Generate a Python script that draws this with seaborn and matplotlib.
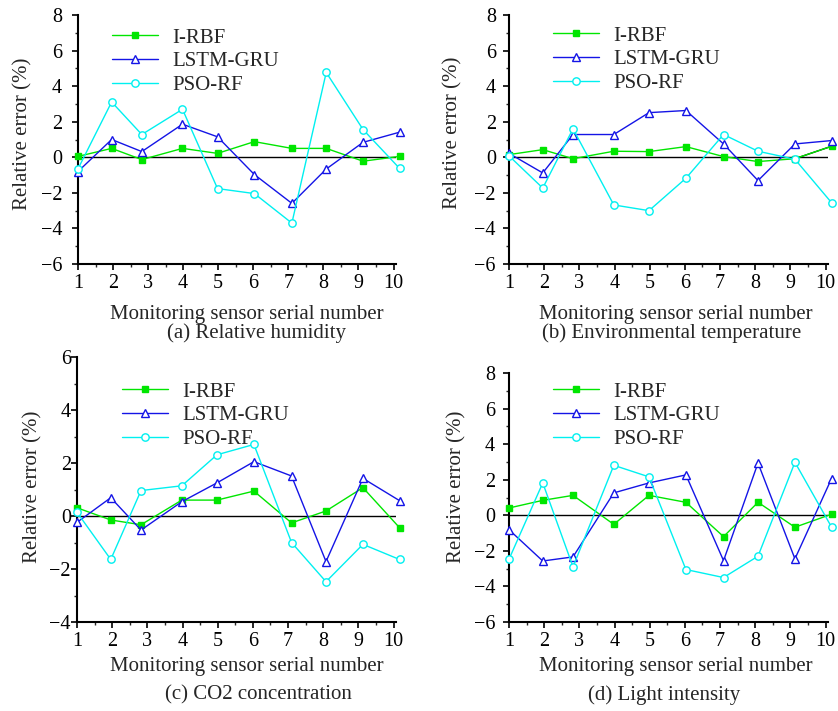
import numpy as np
import pandas as pd
import seaborn as sns
import matplotlib.pyplot as plt
from matplotlib.ticker import MultipleLocator

# sensor positions as drawn (points slightly offset from integer ticks)
sensor_x = [1.0, 1.96, 2.82, 3.98, 4.98, 6.03, 7.1, 8.08, 9.13, 10.17]
models = ["I-RBF", "LSTM-GRU", "PSO-RF"]

# (a) Relative humidity
rh_irbf = [0.05, 0.5, -0.13, 0.5, 0.22, 0.88, 0.5, 0.5, -0.22, 0.05]
rh_lstm = [-0.8, 1.0, 0.32, 1.86, 1.15, -0.97, -2.59, -0.66, 0.84, 1.41]
rh_pso = [-0.65, 3.11, 1.28, 2.7, -1.76, -2.04, -3.7, 4.77, 1.56, -0.62]

# (b) Environmental temperature
et_irbf = [0.15, 0.43, -0.08, 0.34, 0.32, 0.6, 0.04, -0.24, -0.08, 0.62]
et_lstm = [0.22, -0.88, 1.28, 1.28, 2.51, 2.63, 0.75, -1.31, 0.75, 0.94]
et_pso = [0.08, -1.73, 1.6, -2.68, -3.0, -1.18, 1.28, 0.34, -0.11, -2.55]

# (c) CO2 concentration
co_irbf = [0.31, -0.15, -0.33, 0.6, 0.6, 0.94, -0.26, 0.19, 1.07, -0.44]
co_lstm = [-0.24, 0.69, -0.53, 0.54, 1.25, 2.05, 1.51, -1.72, 1.42, 0.58]
co_pso = [0.14, -1.64, 0.96, 1.14, 2.31, 2.7, -1.0, -2.48, -1.07, -1.64]

# (d) Light intensity
li_irbf = [0.41, 0.84, 1.12, -0.51, 1.12, 0.73, -1.2, 0.73, -0.67, 0.06]
li_lstm = [-0.81, -2.57, -2.34, 1.26, 1.82, 2.27, -2.55, 2.94, -2.45, 2.06]
li_pso = [-2.47, 1.82, -2.9, 2.81, 2.16, -3.05, -3.5, -2.3, 2.98, -0.66]

captions = ["(a) Relative humidity", "(b) Environmental temperature",
            "(c) CO2 concentration", "(d) Light intensity"]
ylims = [(-6, 8), (-6, 8), (-4, 6), (-6, 8)]

sns.set_style("ticks")
plt.rcParams['font.family'] = ['Liberation Serif', 'DejaVu Serif']

W, H = 838, 711
fig = plt.figure(figsize=(W / 100, H / 100), dpi=100)


def fx(px):
    return px / W


def fy(py):
    return 1 - py / H


# axes boxes in pixels: left, top, right, bottom
boxes = [(78, 15, 396, 264), (509, 15, 828, 264),
         (77, 357, 396, 622), (509, 373, 828, 622)]
# layout details, in pixels
ytick_pad = [7.5, 5.5, 0.5, 6.0]
ylab_x = [23, 453, 33, 457]
ylab_y = [134, 133, 487, 487]
xlab_xy = [(247, 315), (676, 315), (247, 666), (676, 666)]
cap_xy = [(256, 333), (672, 333), (258, 695), (664, 695)]
leg_xy = [(112, 28), (553, 26), (122, 382), (553, 382)]

panels = [(rh_irbf, rh_lstm, rh_pso), (et_irbf, et_lstm, et_pso),
          (co_irbf, co_lstm, co_pso), (li_irbf, li_lstm, li_pso)]

colors = ["#00e600", "#1414e6", "#00f0f0"]
mk = ["s", "^", "o"]
fcs = ["#00e600", "white", "white"]
msz = [4.5, 5.8, 5.3]

for i, (box, vals) in enumerate(zip(boxes, panels)):
    l, t, r, b = box
    ax = fig.add_axes([fx(l), fy(b), (r - l) / W, (b - t) / H])
    ax.axhline(0, color="black", lw=1.0, zorder=1)
    for j, name in enumerate(models):
        df = pd.DataFrame({"x": sensor_x, "y": vals[j]})
        sns.lineplot(data=df, x="x", y="y", ax=ax, color=colors[j], lw=1.0,
                     marker=mk[j], markersize=msz[j], markerfacecolor=fcs[j],
                     markeredgecolor=colors[j], markeredgewidth=1.0,
                     label=name, clip_on=False, zorder=3 + j)
    if i == 1:
        # last I-RBF segment is drawn in black in the original
        seg = pd.DataFrame({"x": sensor_x[8:], "y": vals[0][8:]})
        sns.lineplot(data=seg, x="x", y="y", ax=ax, color="black", lw=1.0,
                     zorder=2.5, clip_on=False, legend=False)
    ax.set_xlim(1, 10.07)
    ax.set_ylim(*ylims[i])
    ax.set_xticks(range(1, 11))
    ax.xaxis.set_minor_locator(MultipleLocator(0.5))
    ax.yaxis.set_major_locator(MultipleLocator(2))
    ax.yaxis.set_minor_locator(MultipleLocator(1))
    ax.set_yticklabels([f"{int(t)}".replace("-", "\u2212") for t in ax.get_yticks()])
    ax.tick_params(axis="both", which="major", direction="out", length=4,
                   width=1.2, labelsize=14.5, colors="black")
    ax.tick_params(axis="x", which="major", pad=3)
    ax.tick_params(axis="y", which="major", pad=ytick_pad[i])
    ax.tick_params(axis="both", which="minor", direction="out", length=2.5, width=1.0)
    for s in ["left", "bottom"]:
        ax.spines[s].set_linewidth(1.5)
        ax.spines[s].set_color("black")
    sns.despine(ax=ax)

    ax.set_xlabel("Monitoring sensor serial number", fontsize=15, va="center")
    ax.xaxis.set_label_coords(fx(xlab_xy[i][0]), fy(xlab_xy[i][1]),
                              transform=fig.transFigure)
    ax.set_ylabel("Relative error (%)", fontsize=15, va="center")
    ax.yaxis.set_label_coords(fx(ylab_x[i]), fy(ylab_y[i]),
                              transform=fig.transFigure)
    fig.text(fx(cap_xy[i][0]), fy(cap_xy[i][1]), captions[i],
             ha="center", va="center", fontsize=15)

    ax.legend(loc="upper left", bbox_to_anchor=(fx(leg_xy[i][0]), fy(leg_xy[i][1])),
              bbox_transform=fig.transFigure, frameon=False, fontsize=15,
              handlelength=2.2, handletextpad=0.7, labelspacing=0.2,
              borderaxespad=0, borderpad=0)

fig.savefig("out.png", dpi=100)
